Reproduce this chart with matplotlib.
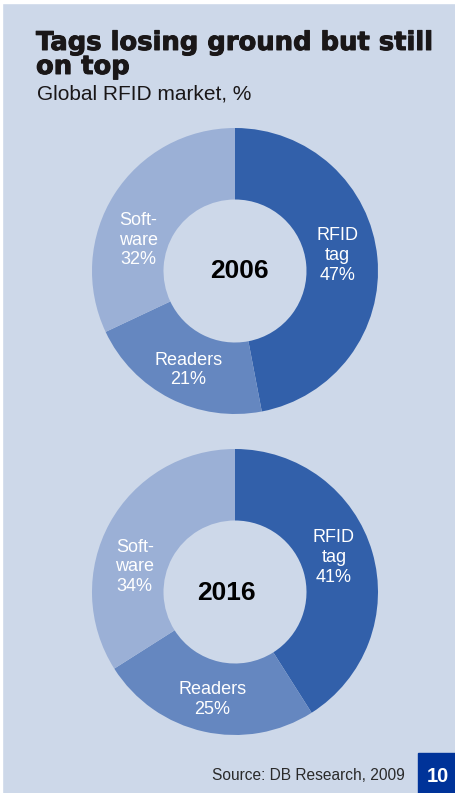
import matplotlib
matplotlib.use("Agg")
import matplotlib.pyplot as plt
import matplotlib.patheffects as pe
import numpy as np
from matplotlib.patches import Rectangle

# datos
categories = ["RFID\ntag", "Readers", "Soft-\nware"]
years = ["2006", "2016"]
shares_2006 = [47, 21, 32]
shares_2016 = [41, 25, 34]

bg = "#cdd8e9"
colors = ["#3260aa", "#6587c0", "#9bb0d6"]
# ajuste fino de las etiquetas (en unidades del radio)
label_nudge = [(0.0, 0.04), (0.0, -0.05), (-0.07, -0.17)]
year_nudge = [(0.03, 0.0), (-0.06, -0.01)]

W, H = 456, 793
fig = plt.figure(figsize=(W / 100, H / 100), dpi=100, facecolor=bg)


def px(x, y):
    # pixel coords (top-left origin) to figure fraction
    return x / W, 1 - y / H


# borde blanco arriba y a la izquierda
fig.patches.append(Rectangle((0, 1 - 3 / H), 1, 3 / H, transform=fig.transFigure,
                             color="white", zorder=0))
fig.patches.append(Rectangle((0, 0), 2.5 / W, 1, transform=fig.transFigure,
                             color="white", zorder=0))

title_fx = [pe.withStroke(linewidth=0.7, foreground="#1a1718")]
for line, y in [("Tags losing ground but still", 50), ("on top", 74)]:
    fig.text(*px(36, y), line, fontsize=18.6, fontweight="bold",
             family="DejaVu Sans", color="#1a1718", va="baseline",
             path_effects=title_fx)
fig.text(*px(37, 100), "Global RFID market, %", fontsize=15,
         family="Liberation Sans", color="#1a1718", va="baseline")


def donut(cy, year, values, ynudge):
    r = 143
    left, bottom = px(235 - r, cy + r)
    ax = fig.add_axes([left, bottom, 2 * r / W, 2 * r / H])
    wedges, _ = ax.pie(values, colors=colors, startangle=90,
                       counterclock=False, radius=1,
                       wedgeprops=dict(width=0.5, linewidth=0))
    for w, c, v, (dx, dy) in zip(wedges, categories, values, label_nudge):
        ang = np.deg2rad((w.theta1 + w.theta2) / 2)
        x = 0.72 * np.cos(ang) + dx
        y = 0.72 * np.sin(ang) + dy
        ax.text(x, y, f"{c}\n{v}%", ha="center", va="center", color="white",
                fontsize=13, family="Liberation Sans", linespacing=1.2)
    ax.text(ynudge[0], ynudge[1], year, ha="center", va="center", fontsize=19,
            fontweight="bold", family="Liberation Sans", color="black")
    ax.set_xlim(-1, 1)
    ax.set_ylim(-1, 1)
    ax.set_aspect("equal")
    ax.axis("off")


donut(271, years[0], shares_2006, year_nudge[0])
donut(592, years[1], shares_2016, year_nudge[1])

fig.text(*px(405, 780), "Source: DB Research, 2009", fontsize=11.2,
         family="Liberation Sans", color="#2a2a2a", ha="right", va="baseline")
fig.patches.append(Rectangle(px(418, 793), 38 / W, 40 / H,
                             transform=fig.transFigure, color="#003399"))
fig.text(*px(438, 782), "10", fontsize=14.5, fontweight="bold",
         family="Liberation Sans", color="white", ha="center", va="baseline")

plt.savefig("out.png", dpi=100, facecolor=bg)
